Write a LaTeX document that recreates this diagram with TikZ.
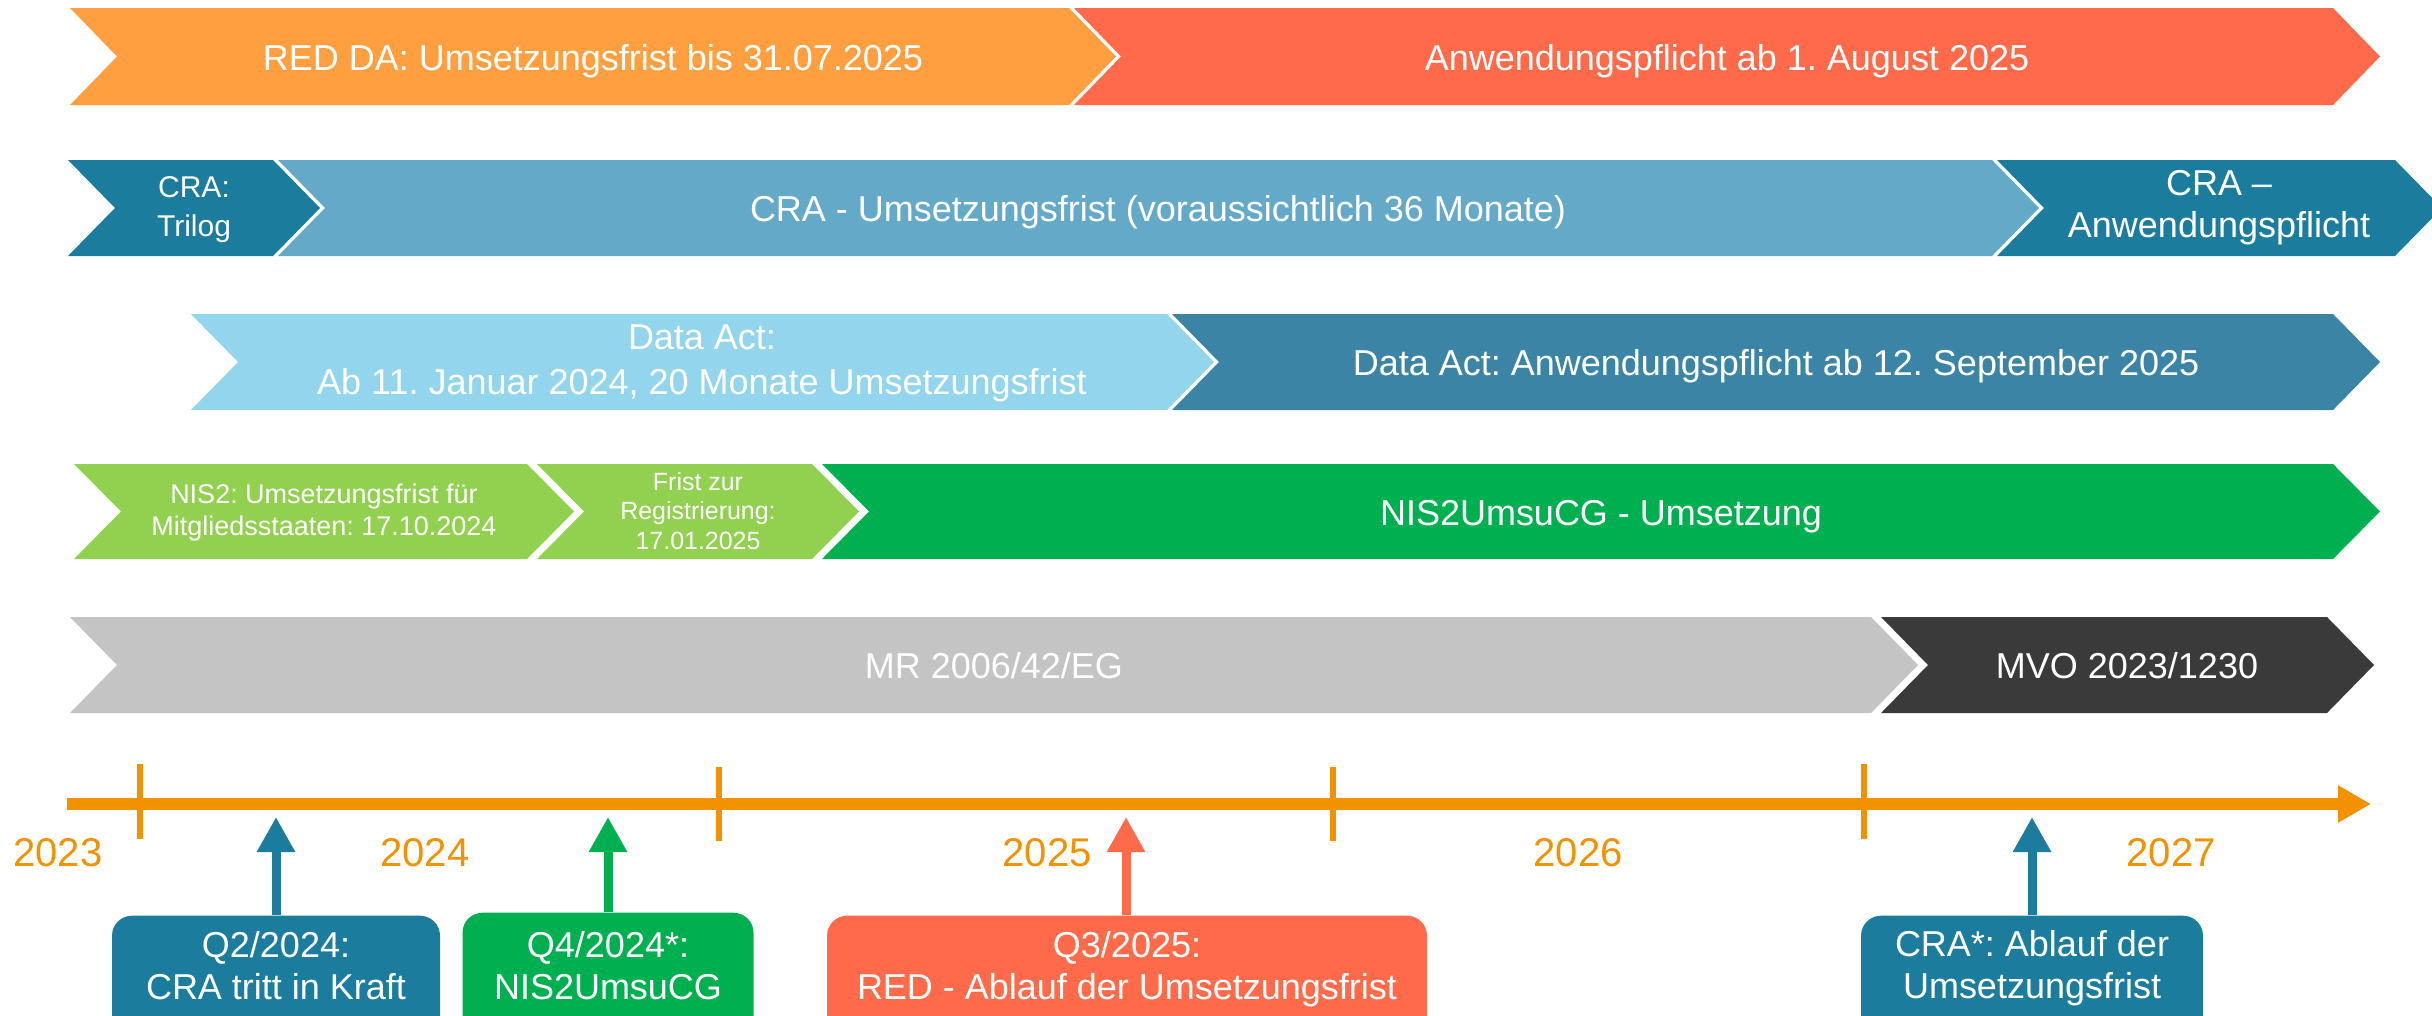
\documentclass[tikz,border=0pt]{standalone}
\usepackage{fontspec}
\setmainfont{Liberation Sans}
\usetikzlibrary{arrows.meta}
\frenchspacing
\definecolor{redda}{HTML}{FF9F40}
\definecolor{redapp}{HTML}{FF6B4A}
\definecolor{cradark}{HTML}{1B7C9E}
\definecolor{cralight}{HTML}{65A9C8}
\definecolor{dalight}{HTML}{92D5ED}
\definecolor{dadark}{HTML}{3B84A5}
\definecolor{nislight}{HTML}{92D050}
\definecolor{nisgreen}{HTML}{00B050}
\definecolor{mrgray}{HTML}{C4C4C4}
\definecolor{mvodark}{HTML}{3A3A3A}
\definecolor{tlorange}{HTML}{F39200}
\newcommand\fbar{\fontsize{10.24pt}{11.95pt}\selectfont}
\newcommand\fda{\fontsize{10.24pt}{12.8pt}\selectfont}
\newcommand\ftri{\fontsize{8.54pt}{11pt}\selectfont}
\newcommand\fnis{\fontsize{7.68pt}{8.96pt}\selectfont}
\newcommand\ffrist{\fontsize{7.1pt}{8.5pt}\selectfont}
\newcommand\fyear{\fontsize{11.4pt}{13pt}\selectfont}
% chevron bar: color, x0, x1 (top right corner), ytop, ybot
\newcommand\chevbar[5]{%
  \fill[#1] (#2,#4) -- (#3,#4) -- ({#3+47},{(#4+#5)/2}) -- (#3,#5) -- (#2,#5) -- ({#2+47},{(#4+#5)/2}) -- cycle;}
\tikzset{
  onetext/.style={text=white, inner sep=0pt, font=\fbar, text height=7.33pt, text depth=0pt},
  multitext/.style={text=white, inner sep=0pt, align=center},
  yeartext/.style={text=tlorange, inner sep=0pt, font=\fyear, text height=8.16pt, text depth=0pt},
  evbox/.style={inner sep=0pt, rounded corners=2mm, anchor=north, minimum height=17mm},
  evarrow/.style={line width=2.56pt, -{Triangle[length=3.5mm,width=3.6mm]}},
  tick/.style={tlorange, line width=1.7pt},
}
\begin{document}
\begin{tikzpicture}[x=0.1mm, y=-0.1mm]
\useasboundingbox (0,0) rectangle (2432,1015);
\clip (0,0) rectangle (2432,1015);
% Row 1: RED
\chevbar{redda}{70}{1069}{8}{105}
\chevbar{redapp}{1074}{2333}{8}{105}
\node[onetext] (red1) at (593,58) {RED DA: Umsetzungsfrist bis 31.07.2025};
\node[onetext] (red2) at (1727,58) {Anwendungspflicht ab 1. August 2025};
% Row 2: CRA
\chevbar{cradark}{68}{273}{160}{256}
\chevbar{cralight}{278}{1992}{160}{256}
\chevbar{cradark}{1997}{2395}{160}{256}
\node[multitext, font=\ftri] (cra1) at (194,209) {CRA:\strut\\Trilog\strut};
\node[onetext] (cra2) at (1158,209) {CRA - Umsetzungsfrist (voraussichtlich 36 Monate)};
\node[multitext, font=\fbar] (cra3) at (2219,208) {CRA –\strut\\Anwendungspflicht\strut};
% Row 3: Data Act
\chevbar{dalight}{191}{1167}{314}{410}
\chevbar{dadark}{1172}{2333}{314}{410}
\node[multitext, font=\fda] (da1) at (702,363) {Data Act:\strut\\Ab 11. Januar 2024, 20 Monate Umsetzungsfrist\strut};
\node[onetext] (da2) at (1776,363) {Data Act: Anwendungspflicht ab 12. September 2025};
% Row 4: NIS2
\chevbar{nislight}{74}{527}{464}{559}
\chevbar{nislight}{537}{812}{464}{559}
\chevbar{nisgreen}{822}{2333}{464}{559}
\node[multitext, font=\fnis] (nis1) at (324,513) {NIS2: Umsetzungsfrist für\strut\\Mitgliedsstaaten: 17.10.2024\strut};
\node[multitext, font=\ffrist] (nis2) at (698,514) {Frist zur\strut\\Registrierung:\strut\\17.01.2025\strut};
\node[onetext] (nis3) at (1601,513) {NIS2UmsuCG - Umsetzung};
% Row 5: MR
\chevbar{mrgray}{70}{1871}{617}{713}
\chevbar{mvodark}{1881}{2327}{617}{713}
\node[onetext] (mr1) at (994,666) {MR 2006/42/EG};
\node[onetext] (mvo) at (2127,666) {MVO 2023/1230};
% Timeline
\coordinate (tlS) at (67,804);
\coordinate (tlE) at (2371,804);
\draw[tlorange, line width=3.41pt, -{Triangle[length=3.3mm,width=3.5mm]}] (tlS) -- (tlE);
\draw[tick] (140,764) -- (140,839);
\draw[tick] (719,767) -- (719,841);
\draw[tick] (1333,767) -- (1333,841);
\draw[tick] (1864,764) -- (1864,839);
\node[yeartext] (y23) at (58,852) {2023};
\node[yeartext] (y24) at (425,852) {2024};
\node[yeartext] (y25) at (1047,852) {2025};
\node[yeartext] (y26) at (1578,852) {2026};
\node[yeartext] (y27) at (2171,852) {2027};
% Event boxes
\node[evbox, fill=cradark, minimum width=32.8mm] (b1) at (276,915) {};
\node[evbox, fill=nisgreen, minimum width=29.1mm] (b2) at (608,912) {};
\node[evbox, fill=redapp, minimum width=60mm] (b3) at (1127,915) {};
\node[evbox, fill=cradark, minimum width=34.2mm] (b4) at (2032,915) {};
\node[multitext, font=\fbar] (t1) at (276,970) {Q2/2024:\strut\\CRA tritt in Kraft\strut};
\node[multitext, font=\fbar] (t2) at (608,970) {Q4/2024*:\strut\\NIS2UmsuCG\strut};
\node[multitext, font=\fbar] (t3) at (1127,970) {Q3/2025:\strut\\RED - Ablauf der Umsetzungsfrist\strut};
\node[multitext, font=\fbar] (t4) at (2032,969) {CRA*: Ablauf der\strut\\Umsetzungsfrist\strut};
% Arrows
\coordinate (a1) at (276,817);
\coordinate (a2) at (608,817);
\coordinate (a3) at (1126,817);
\coordinate (a4) at (2032,817);
\draw[evarrow, cradark] (b1.north) -- (a1);
\draw[evarrow, nisgreen] (b2.north) -- (a2);
\draw[evarrow, redapp] (b3.north -| a3) -- (a3);
\draw[evarrow, cradark] (b4.north) -- (a4);
\end{tikzpicture}
\end{document}
